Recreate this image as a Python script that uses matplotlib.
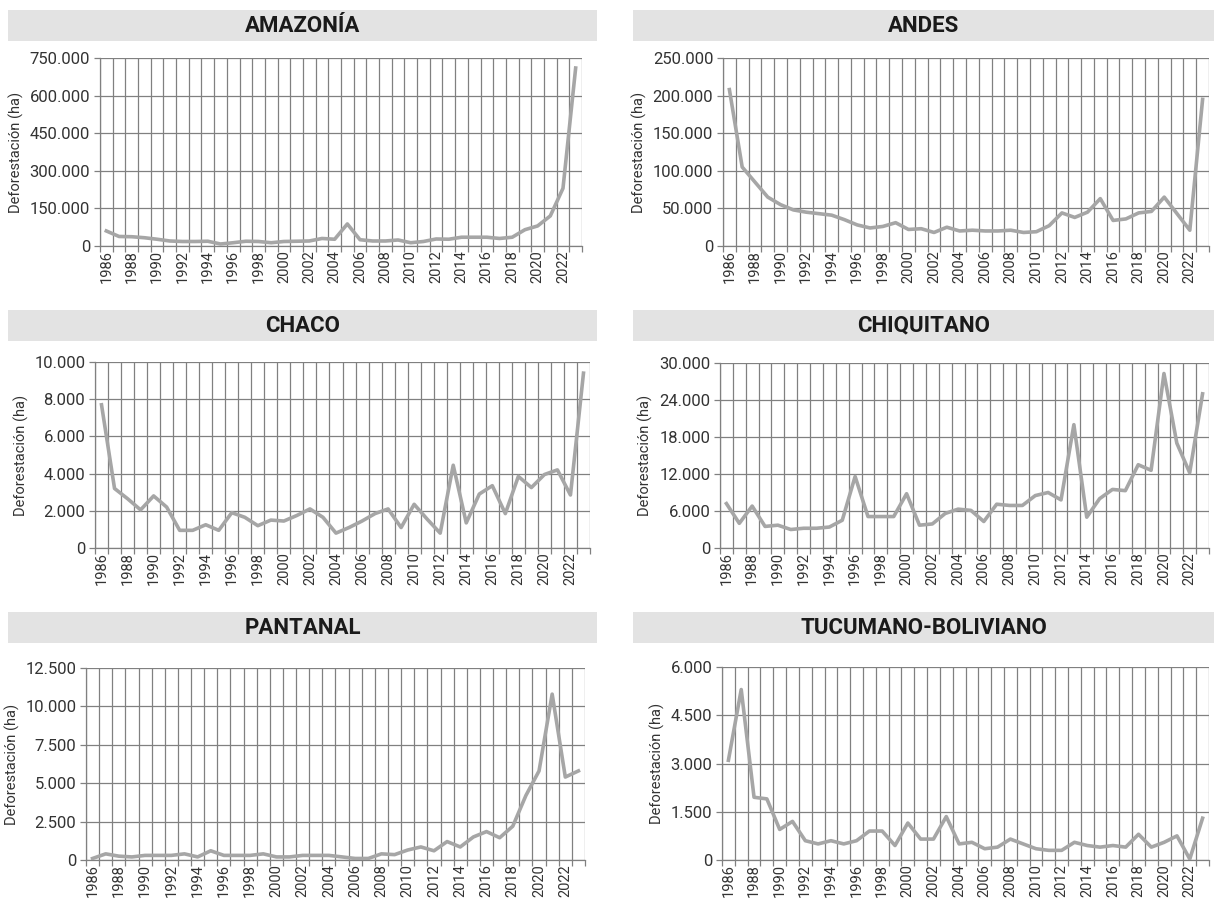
import matplotlib
matplotlib.use("Agg")
import matplotlib.pyplot as plt
from matplotlib import font_manager
from matplotlib.patches import Rectangle
from matplotlib.ticker import FuncFormatter, FixedLocator

years = list(range(1986, 2024))

amazonia = [60000, 38000, 37000, 33000, 27000, 20000, 18000, 18000, 19000, 8000,
            13000, 19000, 18000, 13000, 18000, 19000, 20000, 30000, 27000, 88000,
            25000, 20000, 20000, 24000, 13000, 18000, 28000, 27000, 35000, 35000,
            35000, 30000, 35000, 65000, 80000, 120000, 230000, 710000]
andes = [208000, 105000, 85000, 65000, 55000, 48000, 45000, 43000, 41000, 35000,
         28000, 24000, 26000, 31000, 22000, 23000, 18000, 25000, 20000, 21000,
         20000, 20000, 21000, 18000, 19000, 27000, 44000, 38000, 45000, 63000,
         34000, 36000, 44000, 46000, 65000, 43000, 21000, 195000]
chaco = [7700, 3200, 2650, 2050, 2800, 2200, 950, 950, 1250, 950,
         1900, 1650, 1200, 1500, 1450, 1750, 2100, 1650, 800, 1100,
         1450, 1850, 2100, 1100, 2350, 1550, 800, 4450, 1350, 2900,
         3350, 1850, 3850, 3250, 3950, 4200, 2850, 9400]
chiquitano = [7200, 4000, 6800, 3500, 3700, 3000, 3200, 3200, 3400, 4500,
              11600, 5100, 5100, 5100, 8800, 3700, 3900, 5600, 6300, 6100,
              4300, 7100, 6900, 6900, 8500, 9000, 7800, 20000, 5000, 8000,
              9500, 9300, 13500, 12600, 28300, 17000, 12200, 25000]
pantanal = [100, 400, 250, 200, 300, 300, 300, 400, 200, 600,
            300, 300, 300, 400, 200, 200, 300, 300, 300, 200,
            100, 100, 400, 350, 650, 850, 600, 1200, 850, 1500,
            1850, 1450, 2200, 4200, 5800, 10800, 5400, 5800]
tucumano = [3100, 5300, 1950, 1900, 950, 1200, 600, 500, 600, 500,
            600, 900, 900, 450, 1150, 650, 650, 1350, 500, 550,
            350, 400, 650, 500, 350, 300, 300, 550, 450, 400,
            450, 400, 800, 400, 550, 750, 30, 1300]

titles = ["AMAZONÍA", "ANDES", "CHACO", "CHIQUITANO", "PANTANAL", "TUCUMANO-BOLIVIANO"]
series = [amazonia, andes, chaco, chiquitano, pantanal, tucumano]
y_max = [750000, 250000, 10000, 30000, 12500, 6000]
y_step = [150000, 50000, 2000, 6000, 2500, 1500]

installed = {f.name for f in font_manager.fontManager.ttflist}
narrow = "Liberation Sans Narrow" if "Liberation Sans Narrow" in installed else "Roboto"
plt.rcParams["font.family"] = [narrow, "DejaVu Sans"]

W, H = 1214, 900
fig = plt.figure(figsize=(W / 100, H / 100), dpi=100)

# pixel boxes: left, top, right, bottom
boxes = [(100, 58, 582, 246), (723, 58, 1209, 246),
         (95, 362, 590, 548), (720, 363, 1209, 548),
         (86, 668, 585, 860), (722, 667, 1209, 860)]
bars = [(8, 10, 597, 41), (633, 10, 1214, 41),
        (8, 310, 597, 341), (633, 310, 1214, 341),
        (8, 612, 597, 643), (633, 612, 1214, 643)]

fmt = FuncFormatter(lambda v, p: f"{int(v):,}".replace(",", "."))
x = list(range(len(years)))

for i in range(6):
    bx0, by0, bx1, by1 = bars[i]
    fig.patches.append(Rectangle((bx0 / W, 1 - by1 / H), (bx1 - bx0) / W, (by1 - by0) / H,
                                 transform=fig.transFigure, facecolor="#e3e3e3",
                                 edgecolor="none", zorder=0))
    fig.text((bx0 + bx1) / 2 / W, 1 - (by0 + by1) / 2 / H, titles[i],
             ha="center", va="center", fontsize=16, fontweight="bold", color="#1a1a1a")

    l, t, r, b = boxes[i]
    ax = fig.add_axes([l / W, 1 - b / H, (r - l) / W, (b - t) / H])
    ax.plot(x, series[i], color="#a6a6a6", lw=2.6, solid_joinstyle="round", zorder=3)
    ax.set_xlim(-0.5, len(years) - 0.5)
    ax.set_ylim(0, y_max[i])
    ax.set_yticks(range(0, y_max[i] + 1, y_step[i]))
    ax.yaxis.set_major_formatter(fmt)
    ax.set_xticks(x[::2])
    ax.set_xticklabels([str(y) for y in years[::2]], rotation=90)
    ax.xaxis.set_minor_locator(FixedLocator([k - 0.5 for k in range(len(years) + 1)]))
    ax.tick_params(axis="x", which="major", length=0, pad=3, labelsize=10.5, colors="#333333")
    ax.tick_params(axis="x", which="minor", length=4, color="#808080", width=0.9)
    ax.tick_params(axis="y", length=4, width=0.9, labelsize=12, pad=3,
                   colors="#808080", labelcolor="#333333")
    ax.grid(True, which="minor", axis="x", color="#808080", lw=0.9)
    ax.grid(True, which="major", axis="y", color="#808080", lw=0.9)
    ax.set_axisbelow(True)
    for s in ax.spines.values():
        s.set_color("#808080")
        s.set_linewidth(0.9)
    ax.spines["top"].set_visible(False)
    ax.spines["right"].set_visible(False)
    ax.set_ylabel("Deforestación (ha)", fontsize=10.5, color="#333333", labelpad=4)

fig.savefig("out.png", dpi=100, facecolor="white")
